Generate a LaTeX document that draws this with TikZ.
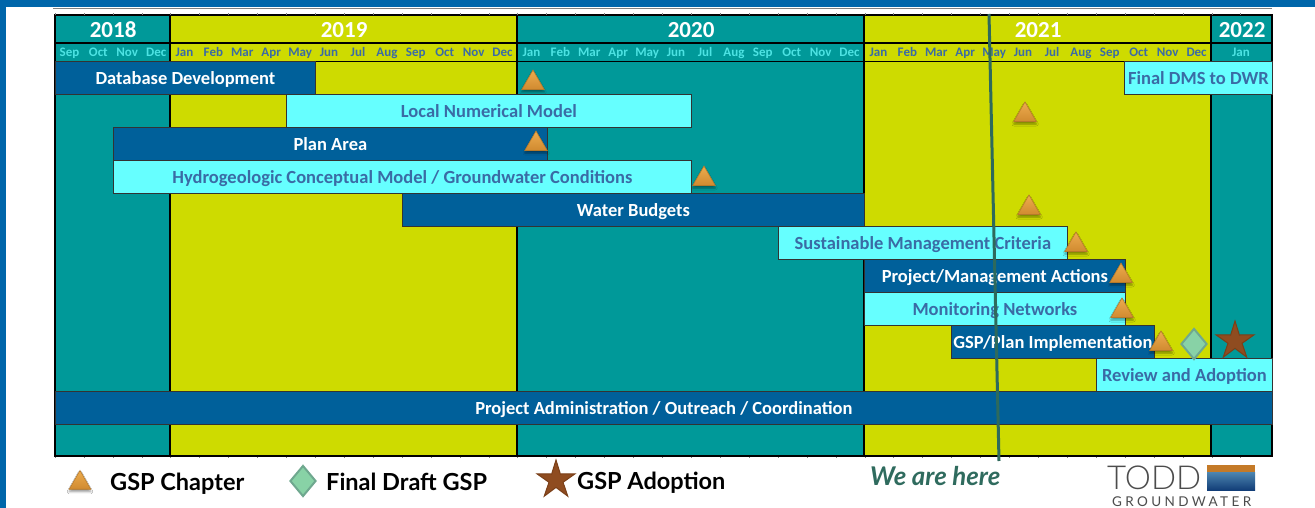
\documentclass[tikz,border=0pt]{standalone}
\usepackage{fontspec}
\setmainfont{Carlito}
\newfontfamily\legendfont{Lato}
\newfontfamily\toddfont{Lato Light}
\newfontfamily\gwfont[LetterSpace=25]{Lato}
\usetikzlibrary{shapes.geometric,shadows.blur,calc}
\definecolor{pageblue}{HTML}{0066AA}
\definecolor{tealcol}{HTML}{009999}
\definecolor{limecol}{HTML}{CEDB00}
\definecolor{barblue}{HTML}{00609A}
\definecolor{barcyan}{HTML}{66FFFF}
\definecolor{txtblue}{HTML}{3A6BA5}
\definecolor{monthcyan}{HTML}{4DE3E3}
\definecolor{herecol}{HTML}{2F6B5E}
\definecolor{linecol}{HTML}{2E6A5C}
\definecolor{triTop}{HTML}{EDAC4E}
\definecolor{triBot}{HTML}{D08A30}
\definecolor{triEdge}{HTML}{B5792A}
\definecolor{diaFill}{HTML}{88D2A6}
\definecolor{diaEdge}{HTML}{6FA88F}
\definecolor{starFill}{HTML}{8F4C20}
\definecolor{starEdge}{HTML}{7A3F18}
\definecolor{logoOrange}{HTML}{C47A28}
\definecolor{logoBlueA}{HTML}{4E86B0}
\definecolor{logoBlueB}{HTML}{123E78}
\tikzset{
  x=1pt,y=-1pt,
  yearcell/.style={draw=black,line width=1.2pt,anchor=north west,inner sep=0pt,minimum height=28pt,text height=19pt,text depth=3pt,text=white,font=\fontsize{23}{23}\selectfont\bfseries},
  monthlab/.style={anchor=base,inner sep=0pt,font=\fontsize{13}{13}\selectfont\bfseries},
  ganttdark/.style={draw=black!80,line width=.8pt,fill=barblue,text=white,anchor=north west,inner sep=0pt,minimum height=33pt,text height=16pt,text depth=3pt,font=\fontsize{18.5}{19}\selectfont\bfseries},
  ganttlight/.style={draw=black!80,line width=.8pt,fill=barcyan,text=txtblue,anchor=north west,inner sep=0pt,minimum height=33pt,text height=16pt,text depth=3pt,font=\fontsize{18.5}{19}\selectfont\bfseries},
  chapter/.style={regular polygon,regular polygon sides=3,minimum size=26pt,inner sep=0pt,draw=triEdge,line width=.6pt,top color=triTop,bottom color=triBot,
    blur shadow={shadow xshift=0pt,shadow yshift=-2.5pt,shadow blur steps=5,shadow blur radius=2pt,shadow opacity=40}},
  finaldraft/.style={diamond,inner sep=0pt,minimum width=26pt,minimum height=31pt,draw=diaEdge,line width=2pt,fill=diaFill},
  adoption/.style={star,star points=5,star point ratio=2.7,inner sep=0pt,minimum size=40pt,draw=starEdge,line width=1pt,fill=starFill},
  legendlab/.style={anchor=base west,inner sep=0pt,text=black,font=\legendfont\fontsize{23.5}{24}\selectfont\bfseries},
}
\newcommand{\yearcol}[6]{%name x1 x2 fill label
  \fill[#4] (#2,15) rectangle (#3,456);
  \draw[black,line width=1.6pt] (#2,15) -- (#2,456);
  \node[yearcell,minimum width=#3pt-#2pt,fill=#4] (#1) at (#2,15) {#5};
}
\newcommand{\ganttbar}[6]{%style name x1 x2 ytop text
  \node[#1,minimum width=#4pt-#3pt] (#2) at (#3,#5) {#6};
}
\begin{document}
\begin{tikzpicture}
\useasboundingbox (0,0) rectangle (1315,508);
\fill[white] (0,0) rectangle (1315,508);
\fill[pageblue] (0,0) rectangle (1315,7.5);
\fill[pageblue] (0,0) rectangle (6,508);
\draw[gray,line width=.6pt] (53,8) -- (1272,8);

% year columns
\yearcol{y18}{55}{170}{tealcol}{2018}{}
\yearcol{y19}{170}{517}{limecol}{2019}{}
\yearcol{y20}{517}{864}{tealcol}{2020}{}
\yearcol{y21}{864}{1211}{limecol}{2021}{}
\yearcol{y22}{1211}{1272}{tealcol}{2022}{}
\draw[black,line width=1.6pt] (55,15) rectangle (1272,456);
\draw[black,line width=1.4pt] (55,43) -- (1272,43);
\draw[black,line width=1.4pt] (55,61.5) -- (1272,61.5);
\foreach \i in {0,...,41}{
  \draw[gray,line width=.5pt] ({55+28.92*\i},13.5) -- ++(0,1.5);
  \draw[gray,line width=.5pt] ({55+28.92*\i},456.5) -- ++(0,1.5);
}

% months
\foreach \m [count=\i from 0] in {Sep,Oct,Nov,Dec}
  \node[monthlab,text=monthcyan] (m18\i) at ({55+28.9*(\i+.5)},57) {\m};
\foreach \m [count=\i from 0] in {Jan,Feb,Mar,Apr,May,Jun,Jul,Aug,Sep,Oct,Nov,Dec}{
  \node[monthlab,text=txtblue] (m19\i) at ({170+28.92*(\i+.5)},57) {\m};
  \node[monthlab,text=monthcyan] (m20\i) at ({517+28.92*(\i+.5)},57) {\m};
  \node[monthlab,text=txtblue] (m21\i) at ({864+28.92*(\i+.5)},57) {\m};
}
\node[monthlab,text=monthcyan] (m220) at (1241,57) {Jan};

% bars
\ganttbar{ganttdark}{db}{55}{315}{61}{Database Development}
\ganttbar{ganttlight}{dms}{1124}{1272}{61}{Final DMS to DWR}
\ganttbar{ganttlight}{lnm}{286}{691}{94}{Local Numerical Model}
\ganttbar{ganttdark}{plan}{113}{547}{127}{Plan Area}
\ganttbar{ganttlight}{hcm}{113}{691}{160}{Hydrogeologic Conceptual Model / Groundwater Conditions}
\ganttbar{ganttdark}{wb}{402}{864}{193}{Water Budgets}
\ganttbar{ganttlight}{smc}{778}{1067}{226}{Sustainable Management Criteria}
\ganttbar{ganttdark}{pma}{864}{1125}{259}{Project/Management Actions}
\ganttbar{ganttlight}{mon}{864}{1125}{292}{Monitoring Networks}
\ganttbar{ganttdark}{imp}{951}{1154}{325}{GSP/Plan Implementation}
\ganttbar{ganttlight}{rev}{1096}{1272}{358}{Review and Adoption}
\ganttbar{ganttdark}{adm}{55}{1272}{391}{Project Administration / Outreach / Coordination}

% we are here line
\coordinate (htop) at (989,14);
\coordinate (hbot) at (999,461);
\draw[linecol,line width=3pt] (htop) -- (hbot);

% markers
\node[chapter] (t1) at (533,83) {};
\node[chapter] (t2) at (1025,115) {};
\node[chapter] (t3) at (536,144) {};
\node[chapter] (t4) at (704,179) {};
\node[chapter] (t5) at (1029,208) {};
\node[chapter] (t6) at (1076,245) {};
\node[chapter] (t7) at (1121,276) {};
\node[chapter] (t8) at (1122,311) {};
\node[chapter] (t9) at (1161,344) {};
\node[finaldraft] (d1) at (1194,344) {};
\node[adoption] (s1) at (1235,341) {};

% legend
\node[chapter,minimum size=25pt] (lt) at (80,483) {};
\node[legendlab] (ltl) at (110,490) {GSP Chapter};
\node[finaldraft,minimum width=26pt,minimum height=31pt] (ld) at (303,481) {};
\node[legendlab] (ldl) at (326,490) {Final Draft GSP};
\node[adoption] (ls) at (556,480) {};
\node[legendlab] (lsl) at (577,489) {GSP Adoption};
\node[anchor=base west,inner sep=0pt,text=herecol,font=\legendfont\fontsize{25.8}{26}\selectfont\bfseries\itshape] (here) at (870,485) {We are here};

% logo
\node[anchor=base west,inner sep=0pt,text=black!70,font=\toddfont\fontsize{33}{33}\selectfont] (todd) at (1107,489.5) {TODD};
\node[anchor=base west,inner sep=0pt,text=black!70,font=\gwfont\fontsize{13.5}{14}\selectfont] (gw) at (1112,506) {GROUNDWATER};
\fill[logoOrange] (1207,465) rectangle (1255,472);
\shade[top color=logoBlueA,bottom color=logoBlueB] (1207,472) rectangle (1255,490);
\end{tikzpicture}
\end{document}
